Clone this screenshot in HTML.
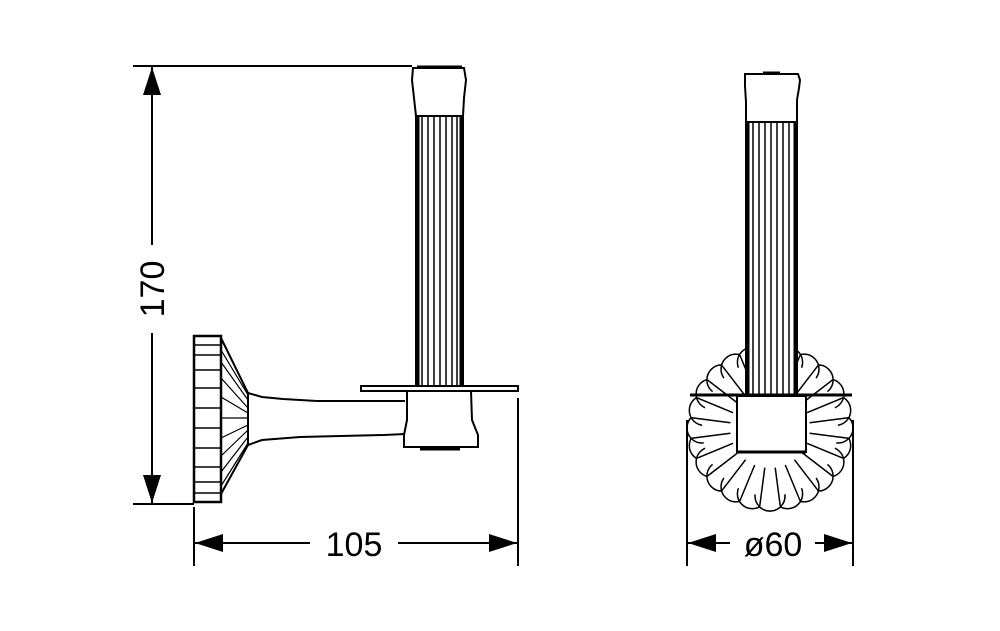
<!DOCTYPE html>
<html><head><style>html,body{margin:0;padding:0;background:#fff}svg{display:block}</style></head>
<body>
<svg width="1000" height="631" viewBox="0 0 1000 631" xmlns="http://www.w3.org/2000/svg" fill="none" stroke="#000" stroke-width="2">
<defs>
<g id="q" stroke-width="1.5">
<line x1="39.6" y1="5.2" x2="78.3" y2="10.3"/>
<line x1="37" y1="15.3" x2="73" y2="30.2"/>
<line x1="31.7" y1="24.4" x2="62.6" y2="48.1"/>
<line x1="24.4" y1="31.7" x2="48.1" y2="62.6"/>
<line x1="15.3" y1="37" x2="30.2" y2="73"/>
<line x1="5.2" y1="39.6" x2="10.3" y2="78.3"/>
</g>
<g id="p" stroke-width="1.5" fill="#fff">
<circle cx="68" cy="0" r="15"/><circle cx="65.7" cy="17.6" r="15"/>
<circle cx="58.9" cy="34" r="15"/><circle cx="48.1" cy="48.1" r="15"/>
<circle cx="34" cy="58.9" r="15"/><circle cx="17.6" cy="65.7" r="15"/>
<circle cx="0" cy="68" r="15"/>
</g>
</defs>
<line x1="133" y1="66" x2="412" y2="66"/>
<line x1="133" y1="504" x2="194" y2="504"/>
<line x1="152" y1="66" x2="152" y2="245"/>
<line x1="152" y1="333" x2="152" y2="504"/>
<polygon points="152,67 143,95 161,95" fill="#000" stroke="none"/>
<polygon points="152,503 143,475 161,475" fill="#000" stroke="none"/>
<text x="0" y="0" transform="translate(164,289) rotate(-90)" font-family="Liberation Sans, sans-serif" font-size="34" fill="#000" stroke="none" text-anchor="middle">170</text>

<line x1="194" y1="507" x2="194" y2="566"/>
<line x1="518" y1="398" x2="518" y2="566"/>
<line x1="194" y1="543" x2="310" y2="543"/>
<line x1="398" y1="543" x2="518" y2="543"/>
<polygon points="195,543 223,534 223,552" fill="#000" stroke="none"/>
<polygon points="517,543 489,534 489,552" fill="#000" stroke="none"/>
<text x="354" y="556" font-family="Liberation Sans, sans-serif" font-size="34" fill="#000" stroke="none" text-anchor="middle">105</text>

<rect x="194" y="336" width="27" height="166" stroke-width="2.5"/>
<g stroke-width="1.5">
<line x1="194" y1="345" x2="221" y2="345"/><line x1="194" y1="355" x2="221" y2="355"/>
<line x1="194" y1="370" x2="221" y2="370"/><line x1="194" y1="388" x2="221" y2="388"/>
<line x1="194" y1="408" x2="221" y2="408"/><line x1="194" y1="428" x2="221" y2="428"/>
<line x1="194" y1="448" x2="221" y2="448"/><line x1="194" y1="467" x2="221" y2="467"/>
<line x1="194" y1="482" x2="221" y2="482"/><line x1="194" y1="493" x2="221" y2="493"/>
</g>
<polyline points="221,338 248,393 248,445 221,494"/>
<g stroke-width="1.2">
<line x1="221" y1="350" x2="248" y2="395"/><line x1="221" y1="362" x2="248" y2="400"/>
<line x1="221" y1="378" x2="248" y2="408"/><line x1="221" y1="397" x2="248" y2="413"/>
<line x1="221" y1="418" x2="248" y2="418"/><line x1="221" y1="438" x2="248" y2="425"/>
<line x1="221" y1="456" x2="248" y2="430"/><line x1="221" y1="472" x2="248" y2="437"/>
<line x1="221" y1="486" x2="248" y2="443"/>
</g>
<polyline points="248,393 262,397 283,399 317,401 405,401"/>
<polyline points="248,445 262,440 300,437 384,435 405,434"/>
<polygon points="407,391 471,391 472,420 478,435 478,447 404,447 404,435 407,420"/>
<line x1="420" y1="449" x2="460" y2="449" stroke-width="3"/>
<rect x="361" y="386" width="157" height="5"/>
<rect x="416" y="116" width="47" height="270"/>
<g stroke-width="1.5">
<line x1="422" y1="116" x2="422" y2="386"/><line x1="428" y1="116" x2="428" y2="386"/>
<line x1="434" y1="116" x2="434" y2="386"/><line x1="440" y1="116" x2="440" y2="386"/>
<line x1="446" y1="116" x2="446" y2="386"/><line x1="452" y1="116" x2="452" y2="386"/>
<line x1="457" y1="116" x2="457" y2="386"/>
</g>
<line x1="418" y1="116" x2="418" y2="386" stroke-width="3"/>
<line x1="461" y1="116" x2="461" y2="386" stroke-width="3"/>
<polyline points="416,116 414,98 412,80 413,68 464,68 466,80 464,98 463,116"/>
<line x1="417" y1="67" x2="462" y2="67" stroke-width="3"/>

<g transform="translate(770,428)">
<use href="#p"/><use href="#p" transform="scale(-1,1)"/><use href="#p" transform="scale(1,-1)"/><use href="#p" transform="scale(-1,-1)"/>
<circle r="68" fill="#fff" stroke="none"/>
<use href="#q"/><use href="#q" transform="scale(-1,1)"/><use href="#q" transform="scale(1,-1)"/><use href="#q" transform="scale(-1,-1)"/>
</g>
<rect x="737" y="395" width="69" height="57" fill="#fff" stroke="none"/>
<rect x="746" y="122" width="51" height="273" fill="#fff" stroke="none"/>
<line x1="690" y1="395" x2="852" y2="395" stroke-width="3"/>
<rect x="737" y="396" width="69" height="56"/>
<line x1="737" y1="452" x2="806" y2="452" stroke-width="3"/>
<rect x="746" y="122" width="51" height="273"/>
<g stroke-width="1.5">
<line x1="753" y1="122" x2="753" y2="395"/><line x1="759" y1="122" x2="759" y2="395"/>
<line x1="765" y1="122" x2="765" y2="395"/><line x1="771" y1="122" x2="771" y2="395"/>
<line x1="777" y1="122" x2="777" y2="395"/><line x1="783" y1="122" x2="783" y2="395"/>
<line x1="789" y1="122" x2="789" y2="395"/>
</g>
<line x1="748" y1="122" x2="748" y2="395" stroke-width="3"/>
<line x1="795" y1="122" x2="795" y2="395" stroke-width="3"/>
<polyline points="746,122 746,102 745,86 745,74 798,74 800,80 799,88 797,100 797,122"/>
<line x1="763" y1="73" x2="780" y2="73" stroke-width="3"/>

<line x1="687" y1="420" x2="687" y2="566"/>
<line x1="853" y1="420" x2="853" y2="566"/>
<line x1="687" y1="543" x2="730" y2="543"/>
<line x1="815" y1="543" x2="853" y2="543"/>
<polygon points="688,543 716,534 716,552" fill="#000" stroke="none"/>
<polygon points="852,543 824,534 824,552" fill="#000" stroke="none"/>
<text x="773" y="556" font-family="Liberation Sans, DejaVu Sans, sans-serif" font-size="34" fill="#000" stroke="none" text-anchor="middle">ø60</text>
</svg>
</body></html>
